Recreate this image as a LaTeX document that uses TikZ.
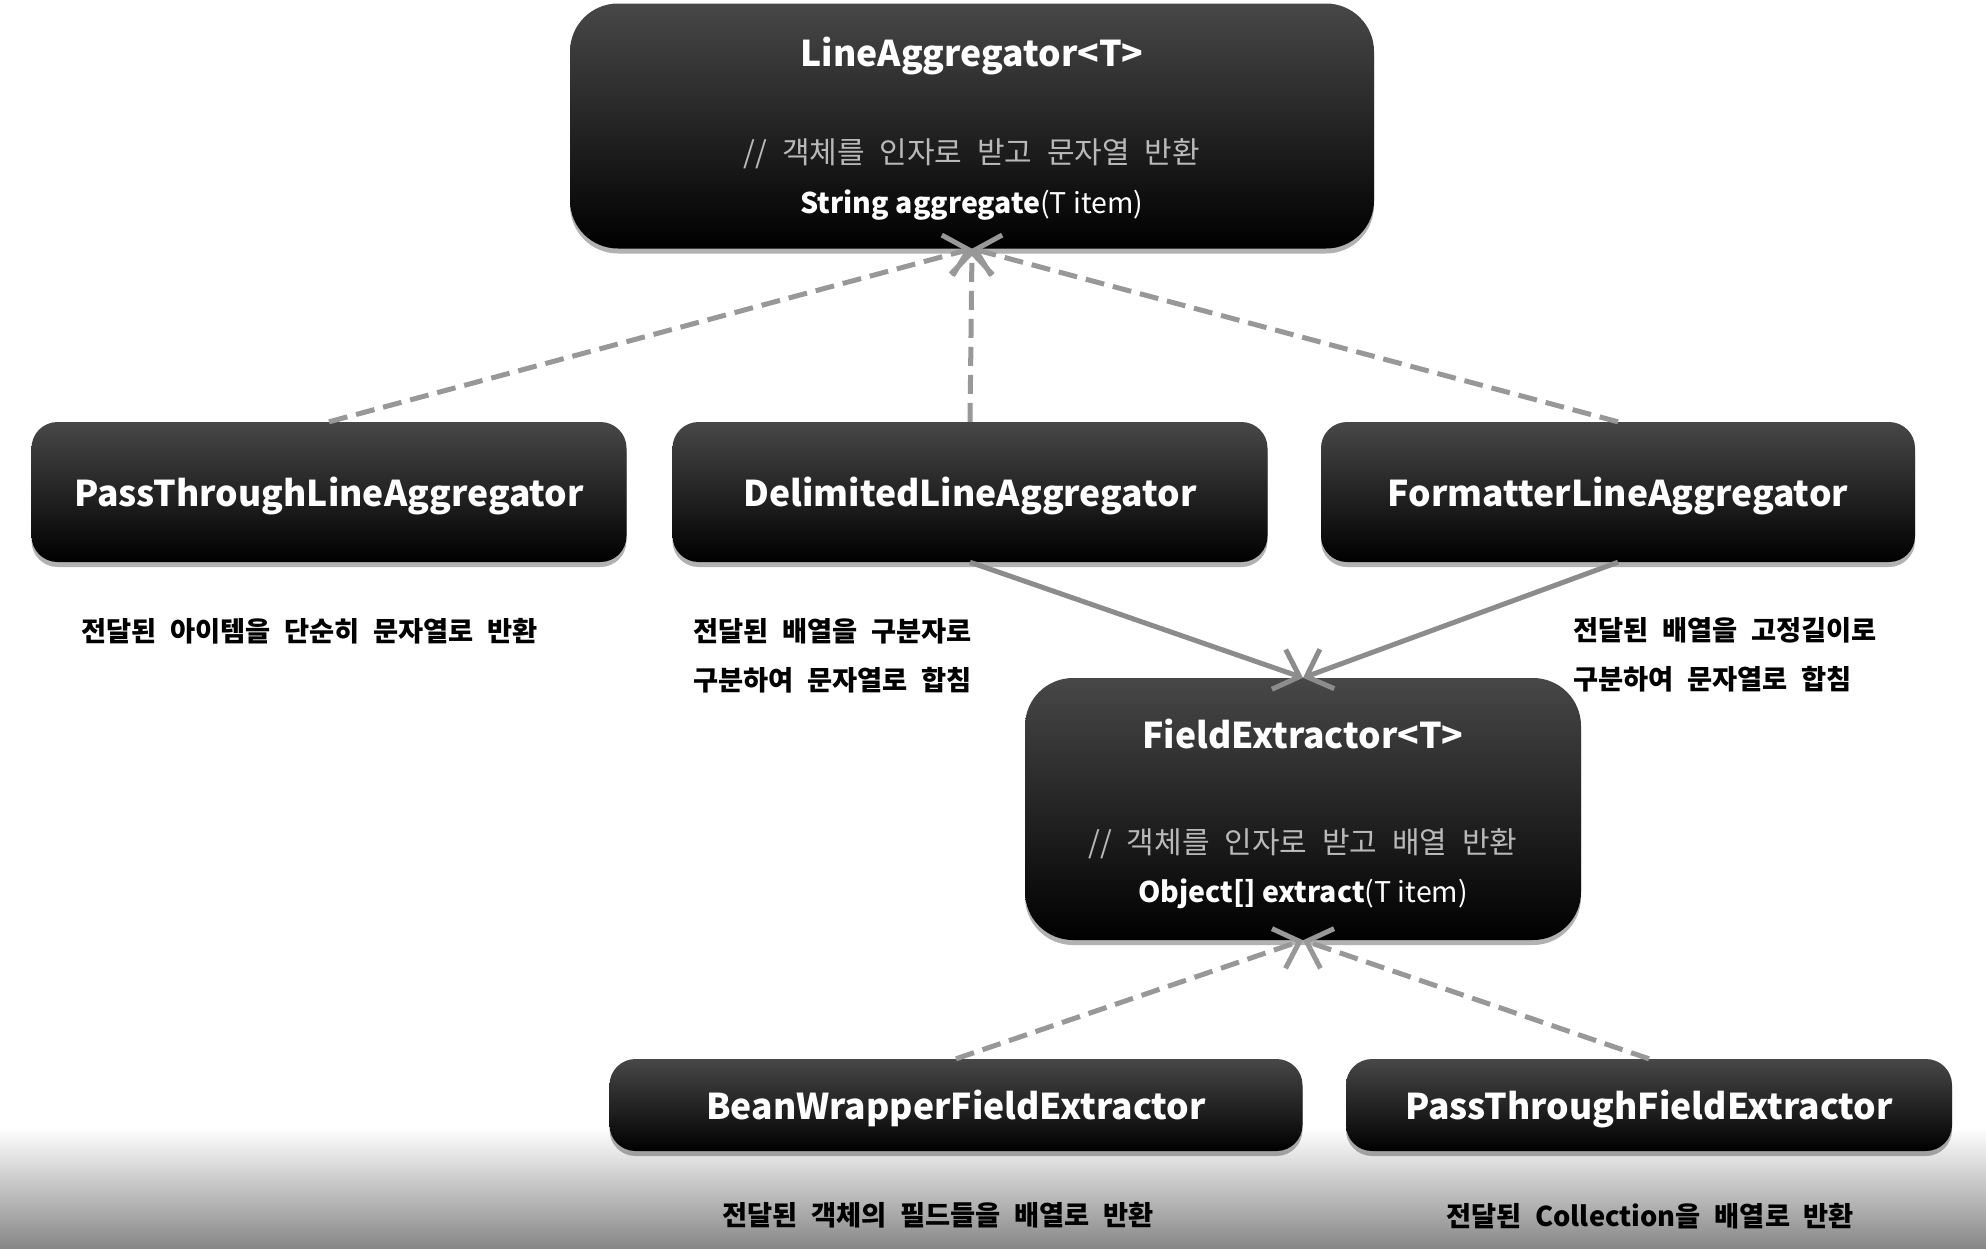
\documentclass[tikz,border=0pt]{standalone}
\usepackage{fontspec}
\setmainfont{Noto Sans CJK KR}
\newfontfamily\widefont[WordSpace=2.0]{Noto Sans CJK KR}
\newfontfamily\commentfont[WordSpace=2.2]{Noto Sans CJK KR}
\usetikzlibrary{arrows.meta,shadows}
\definecolor{dashgray}{RGB}{152,152,152}
\definecolor{solidgray}{RGB}{140,140,140}
\definecolor{commentgray}{RGB}{185,185,185}
\definecolor{bggray}{RGB}{135,135,135}
\begin{document}
\begin{tikzpicture}[x=1pt,y=-1pt,
  boxbase/.style={rectangle, draw=none, inner sep=0pt,
    top color=black!72, middle color=black, bottom color=black,
    drop shadow={shadow xshift=0pt, shadow yshift=-5pt, opacity=0.3, fill=black}},
  bigbox/.style={boxbase, rounded corners=48pt},
  smallbox/.style={boxbase, rounded corners=26pt, text=white,
    text height=33pt, text depth=4pt,
    font=\bfseries\fontsize{35.5}{42}\selectfont},
  titletext/.style={text=white, font=\bfseries\fontsize{35.5}{42}\selectfont, inner sep=0pt},
  commenttext/.style={text=commentgray, font=\commentfont\fontsize{30}{36}\selectfont, inner sep=0pt},
  methodtext/.style={text=white, font=\fontsize{28.5}{34}\selectfont, inner sep=0pt},
  desc/.style={text=black, font=\widefont\bfseries\fontsize{27.3}{49}\selectfont, align=left, inner sep=0pt, anchor=west},
  realize/.style={draw=dashgray, line width=5pt, dash pattern=on 19pt off 9pt,
    -{Straight Barb[length=22pt,width=42pt,line width=5pt]}},
  assoc/.style={draw=solidgray, line width=5pt,
    -{Straight Barb[length=22pt,width=42pt,line width=5pt]}}
]
\useasboundingbox (0,0) rectangle (1986,1248);
\fill[white] (0,0) rectangle (1986,1248);
\shade[top color=white, bottom color=bggray] (0,1128) rectangle (1986,1248);

% top interface
\node[bigbox, minimum width=804pt, minimum height=245pt] (la) at (972,126) {};
\node[titletext] (latitle) at (972,56) {LineAggregator<T>};
\node[commenttext] (lacomment) at (972,154) {// 객체를 인자로 받고 문자열 반환};
\node[methodtext] (lamethod) at (972,205) {\textbf{String aggregate}(T item)};

% aggregators
\node[smallbox, minimum width=595pt, minimum height=140pt] (pla) at (329,492) {PassThroughLineAggregator};
\node[smallbox, minimum width=595pt, minimum height=140pt] (dla) at (970,492) {DelimitedLineAggregator};
\node[smallbox, minimum width=594pt, minimum height=140pt] (fla) at (1618,492) {FormatterLineAggregator};

% field extractor interface
\node[bigbox, minimum width=556pt, minimum height=262pt] (fe) at (1303,809) {};
\node[titletext] (fetitle) at (1303,734) {FieldExtractor<T>};
\node[commenttext] (fecomment) at (1303,844) {// 객체를 인자로 받고 배열 반환};
\node[methodtext] (femethod) at (1303,894) {\textbf{Object[] extract}(T item)};

% extractors
\node[smallbox, minimum width=693pt, minimum height=92pt] (bw) at (956,1105) {BeanWrapperFieldExtractor};
\node[smallbox, minimum width=606pt, minimum height=92pt] (ptf) at (1649,1105) {PassThroughFieldExtractor};

% descriptions
\node[desc] (d1) at (81,631) {전달된 아이템을 단순히 문자열로 반환};
\node[desc] (d2) at (693,656) {전달된 배열을 구분자로\\구분하여 문자열로 합침};
\node[desc] (d3) at (1573,655) {전달된 배열을 고정길이로\\구분하여 문자열로 합침};
\node[desc] (d4) at (722,1215) {전달된 객체의 필드들을 배열로 반환};
\node[desc] (d5) at (1446,1216) {전달된 Collection을 배열로 반환};

% connectors
\draw[realize] (pla.north) -- (la.south);
\draw[realize] (dla.north) -- (la.south);
\draw[realize] (fla.north) -- (la.south);
\draw[assoc] (dla.south) -- (fe.north);
\draw[assoc] (fla.south) -- (fe.north);
\draw[realize] (bw.north) -- (fe.south);
\draw[realize] (ptf.north) -- (fe.south);
\end{tikzpicture}
\end{document}
